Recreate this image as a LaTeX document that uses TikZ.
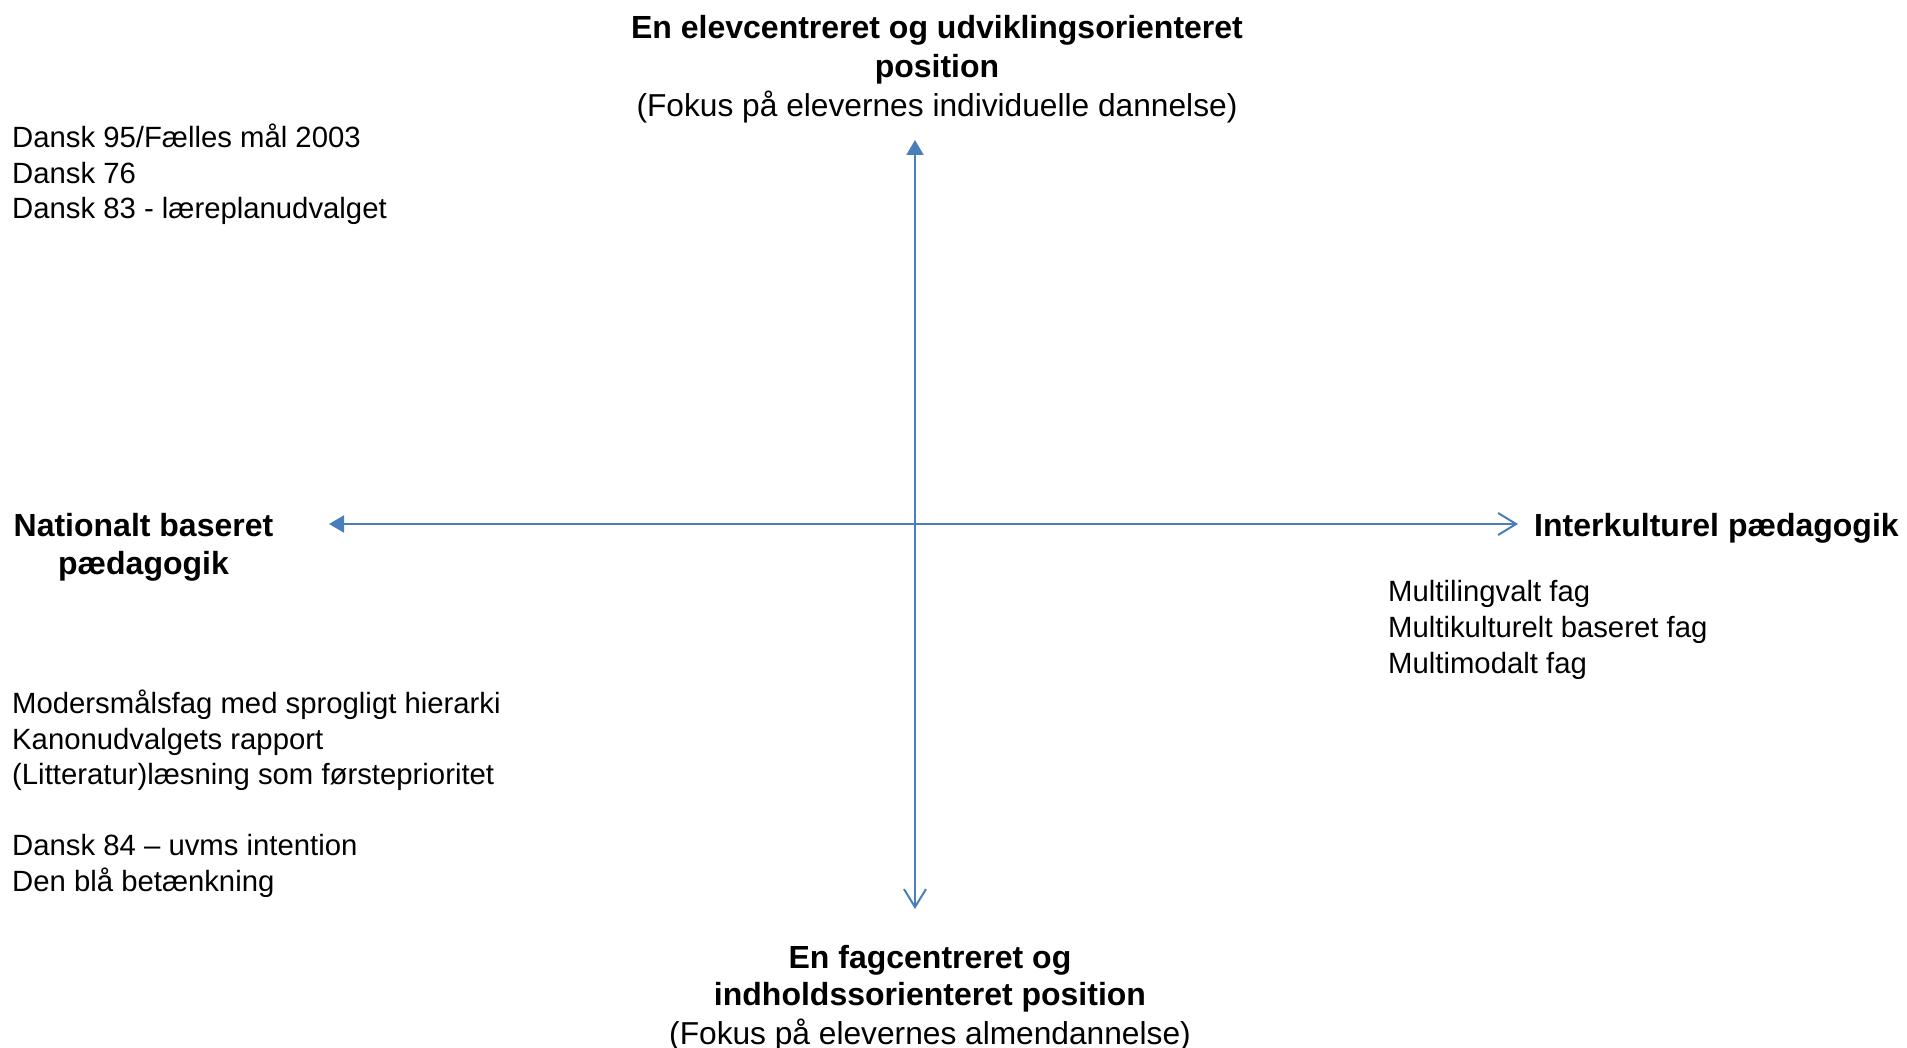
\documentclass[tikz,border=0pt]{standalone}
\usepackage{fontspec}
\setmainfont{Liberation Sans}
\usetikzlibrary{arrows.meta}
\definecolor{axisblue}{RGB}{74,126,187}
\tikzset{
  titletext/.style={font=\bfseries\fontsize{32}{39}\selectfont, inner sep=0pt, anchor=base},
  subtext/.style={font=\fontsize{31.7}{39}\selectfont, inner sep=0pt, anchor=base},
  listtext/.style={font=\fontsize{29.3}{35.5}\selectfont, inner sep=0pt, anchor=base west},
  axisline/.style={draw=axisblue, line width=2pt},
}
\begin{document}
\begin{tikzpicture}[x=1pt,y=-1pt]
\useasboundingbox (0,0) rectangle (1907,1048);
% axes
\coordinate (vtop) at (915,140);
\coordinate (vbot) at (915,909);
\coordinate (hl) at (329,524);
\coordinate (hr) at (1518,524);
\draw[axisline, {Triangle[length=15pt,width=17pt]}-{Straight Barb[length=18pt,width=22pt]}] (vtop) -- (vbot);
\draw[axisline, {Triangle[length=15pt,width=17pt]}-{Straight Barb[length=18pt,width=22pt]}] (hl) -- (hr);
% top title
\node[titletext] (t1) at (937,38.5) {En elevcentreret og udviklingsorienteret};
\node[titletext] (t2) at (937,77.5) {position};
\node[subtext] (t3) at (937,116.5) {(Fokus på elevernes individuelle dannelse)};
% top-left list
\node[listtext] (a1) at (12,148) {Dansk 95/Fælles mål 2003};
\node[listtext] (a2) at (12,183.5) {Dansk 76};
\node[listtext] (a3) at (12,219) {Dansk 83 - læreplanudvalget};
% left label
\node[titletext] (l1) at (143.5,536.5) {Nationalt baseret};
\node[titletext] (l2) at (143.5,574.5) {pædagogik};
% right label
\node[titletext, anchor=base west] (r1) at (1534,536.5) {Interkulturel pædagogik};
% right list
\node[listtext] (b1) at (1388,601.5) {Multilingvalt fag};
\node[listtext] (b2) at (1388,637.5) {Multikulturelt baseret fag};
\node[listtext] (b3) at (1388,673) {Multimodalt fag};
% bottom-left list
\node[listtext] (c1) at (12,713.5) {Modersmålsfag med sprogligt hierarki};
\node[listtext] (c2) at (12,749) {Kanonudvalgets rapport};
\node[listtext] (c3) at (12,784.5) {(Litteratur)læsning som førsteprioritet};
\node[listtext] (c4) at (12,855.5) {Dansk 84 – uvms intention};
\node[listtext] (c5) at (12,891) {Den blå betænkning};
% bottom title
\node[titletext] (d1) at (930,968) {En fagcentreret og};
\node[titletext] (d2) at (930,1005.5) {indholdssorienteret position};
\node[subtext] (d3) at (930,1044) {(Fokus på elevernes almendannelse)};
\end{tikzpicture}
\end{document}
